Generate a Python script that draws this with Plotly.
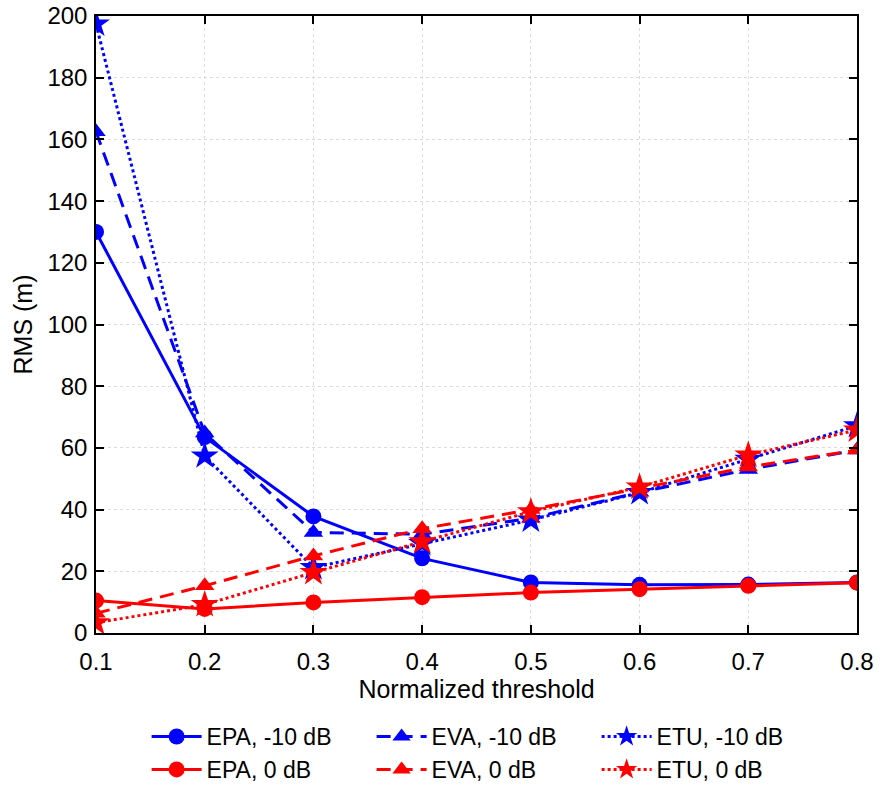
import plotly.graph_objects as go

x = [0.1, 0.2, 0.3, 0.4, 0.5, 0.6, 0.7, 0.8]

epa_m10 = [130, 63.5, 37.8, 24.2, 16.4, 15.6, 15.7, 16.4]
eva_m10 = [162.5, 64.8, 32.6, 32.0, 37.2, 45.6, 53.0, 59.3]
etu_m10 = [197.4, 57.4, 21.2, 29.0, 36.6, 45.5, 56.3, 67.2]
epa_0 = [10.5, 7.8, 9.9, 11.6, 13.1, 14.2, 15.3, 16.3]
eva_0 = [6.4, 15.3, 25.0, 33.8, 40.0, 47.0, 53.8, 59.3]
etu_0 = [3.3, 9.2, 19.6, 29.6, 39.3, 47.3, 57.7, 65.8]

series = [
    ("EPA, -10 dB", epa_m10, "blue", "solid", "circle", 16),
    ("EVA, -10 dB", eva_m10, "blue", "14px,8px", "triangle-up", 17),
    ("ETU, -10 dB", etu_m10, "blue", "dot", "star", 21),
    ("EPA, 0 dB", epa_0, "red", "solid", "circle", 16),
    ("EVA, 0 dB", eva_0, "red", "14px,8px", "triangle-up", 17),
    ("ETU, 0 dB", etu_0, "red", "dot", "star", 21),
]

fig = go.Figure()
for name, y, color, dash, sym, size in series:
    fig.add_trace(go.Scatter(
        x=x, y=y, name=name, mode="lines+markers",
        line=dict(color=color, width=3, dash=dash),
        marker=dict(symbol=sym, size=size, color=color),
    ))

font = "Liberation Sans, Arial, sans-serif"
fig.update_layout(
    width=889, height=787,
    margin=dict(l=96, r=32, t=16, b=154, autoexpand=False),
    paper_bgcolor="white", plot_bgcolor="white",
    font=dict(family=font, size=24, color="black"),
    legend=dict(orientation="h", x=0.51, xanchor="center", y=-0.133, yanchor="top",
                entrywidth=160, entrywidthmode="pixels", font=dict(size=23),
                tracegroupgap=0, itemwidth=50, bgcolor="rgba(0,0,0,0)"),
)
axis_common = dict(
    showline=True, linecolor="black", linewidth=1.5, mirror="ticks",
    ticks="inside", ticklen=8, tickcolor="black", tickwidth=1.5,
    showgrid=True, gridcolor="#dcdcdc", griddash="dot", gridwidth=1,
    zeroline=False, tickfont=dict(size=24), automargin=False,
)
fig.update_xaxes(range=[0.1, 0.8], tickvals=x, ticktext=["0.1", "0.2", "0.3", "0.4", "0.5", "0.6", "0.7", "0.8"],
                 ticklabelstandoff=6,
                 title=dict(text="Normalized threshold", font=dict(size=25), standoff=6), **axis_common)
fig.update_yaxes(range=[0, 200], dtick=20, ticklabelstandoff=2,
                 title=dict(text="RMS (m)", font=dict(size=25), standoff=8), **axis_common)

fig.write_html("out.html")
